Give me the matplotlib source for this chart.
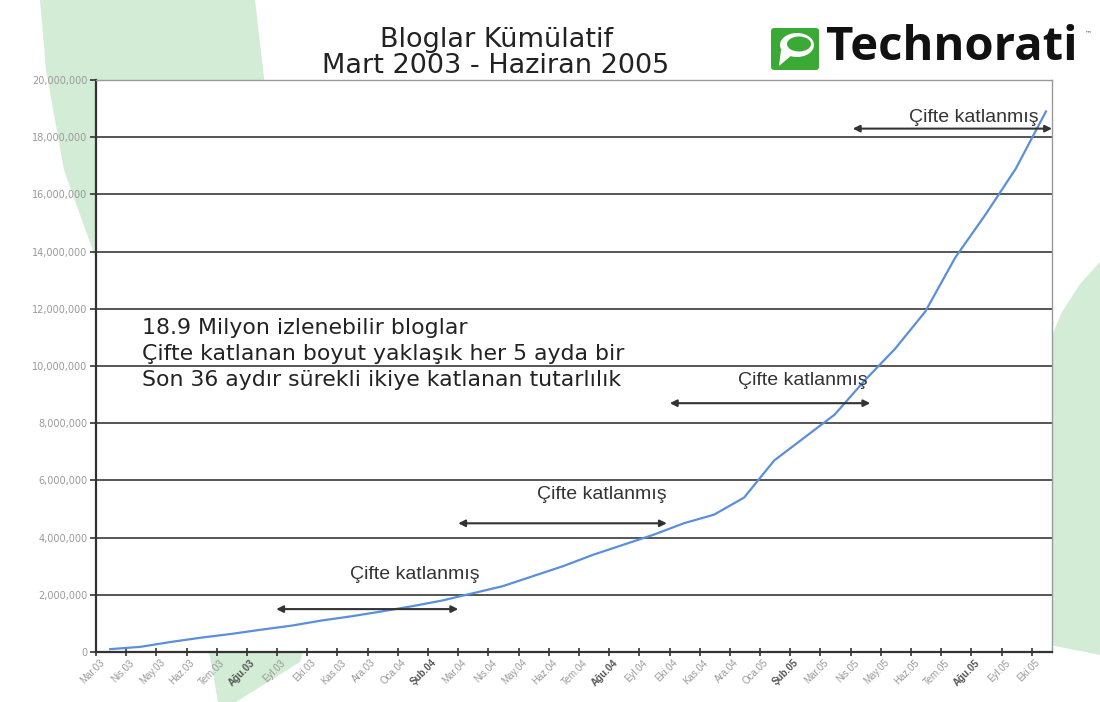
"""
Technorati: cumulative blog count, Mar 2003 - Jun 2005 (Turkish slide).
"""
import matplotlib
matplotlib.use("Agg")
import matplotlib.pyplot as plt
from matplotlib.patches import Polygon, FancyBboxPatch, Ellipse
from matplotlib.ticker import FuncFormatter
from matplotlib.transforms import ScaledTranslation

months = ["Mar.03", "Nis.03", "May.03", "Haz.03", "Tem.03", "Ağu.03", "Eyl.03", "Eki.03",
          "Kas.03", "Ara.03", "Oca.04", "Şub.04", "Mar.04", "Nis.04", "May.04", "Haz.04",
          "Tem.04", "Ağu.04", "Eyl.04", "Eki.04", "Kas.04", "Ara.04", "Oca.05", "Şub.05",
          "Mar.05", "Nis.05", "May.05", "Haz.05", "Tem.05", "Ağu.05", "Eyl.05", "Eki.05"]
bold_months = ["Ağu.03", "Şub.04", "Ağu.04", "Şub.05", "Ağu.05"]

blogs = [0.10, 0.18, 0.35, 0.50, 0.63, 0.78, 0.92, 1.10,
         1.25, 1.42, 1.60, 1.80, 2.05, 2.30, 2.65, 3.00,
         3.40, 3.75, 4.10, 4.50, 4.80, 5.40, 6.70, 7.50,
         8.30, 9.50, 10.6, 11.9, 13.8, 15.3, 16.9, 18.9]
blogs = [v * 1e6 for v in blogs]

# doubling periods: (start month idx, end month idx, arrow level, text x, text level)
doublings = [(5.5, 11.53, 1.5e6, 10.1, 2.7e6),
             (11.53, 18.44, 4.5e6, 16.3, 5.5e6),
             (18.54, 25.18, 8.7e6, 22.95, 9.5e6),
             (24.6, 31.2, 18.3e6, 28.6, 18.68e6)]
doubling_label = "Çifte katlanmış"

notes = ["18.9 Milyon izlenebilir bloglar",
         "Çifte katlanan boyut yaklaşık her 5 ayda bir",
         "Son 36 aydır sürekli ikiye katlanan tutarlılık"]

W, H = 1100, 702
fig = plt.figure(figsize=(W / 100, H / 100), dpi=100)

# background layer in pixel coordinates
bg = fig.add_axes([0, 0, 1, 1], zorder=0)
bg.set_xlim(0, W)
bg.set_ylim(H, 0)
bg.axis("off")
green_light = "#d3ecd6"
bg.add_patch(Polygon([(40, 0), (255, 0), (262, 60), (290, 300), (312, 620), (300, 662),
                      (236, 702), (218, 702), (200, 600), (97, 262), (64, 170), (46, 70)],
                     closed=True, color=green_light, lw=0))
bg.add_patch(Polygon([(1100, 262), (1080, 284), (1062, 312), (1050, 340), (1050, 645),
                      (1100, 655)], closed=True, color=green_light, lw=0))

bg.text(496, 40, "Bloglar Kümülatif", ha="center", va="center",
        fontsize=19.5, color="#222222", family="DejaVu Sans")
bg.text(496, 66, "Mart 2003 - Haziran 2005", ha="center", va="center",
        fontsize=19.5, color="#222222", family="DejaVu Sans")

# Technorati logo
logo_green = "#3aa935"
bg.add_patch(FancyBboxPatch((771, 28), 48, 42, boxstyle="round,pad=0,rounding_size=3",
                            color=logo_green, lw=0))
bg.add_patch(Ellipse((797, 45), 34, 24, color="white", lw=0))
bg.add_patch(Ellipse((799, 44), 24, 15, color=logo_green, lw=0))
bg.add_patch(Polygon([(781, 50), (779, 66), (792, 55)], closed=True, color="white", lw=0))
bg.text(826, 48, "Technorati", ha="left", va="center", fontsize=34,
        fontweight="bold", color="#111111", family="Open Sans")
bg.text(1085, 33, "™", ha="left", va="center", fontsize=5, color="#555555")

# main chart
ax = fig.add_axes([96 / W, 1 - 652 / H, (1052 - 96) / W, (652 - 80) / H], zorder=1)
ax.set_facecolor("white")
x = list(range(len(months)))
ax.plot(x, blogs, color="#5b8fdc", lw=1.6, zorder=3)

ax.set_xlim(-0.47, 31.2)
ax.set_ylim(0, 20e6)
ax.set_yticks([i * 2e6 for i in range(11)])
ax.yaxis.set_major_formatter(FuncFormatter(lambda v, p: f"{int(v):,}"))
ax.grid(axis="y", color="#555555", lw=1.4)
ax.set_axisbelow(True)
for side in ["left", "bottom"]:
    ax.spines[side].set_color("#333333")
    ax.spines[side].set_linewidth(1.6)
for side in ["top", "right"]:
    ax.spines[side].set_color("#999999")
    ax.spines[side].set_linewidth(1.0)
ax.tick_params(axis="y", direction="out", length=4, width=1.2, color="#333333",
               labelsize=7, labelcolor="#999999", pad=2)

ax.set_xticks([i - 0.47 for i in x], minor=True)
ax.set_xticks(x)
ax.set_xticklabels(months)
ax.tick_params(axis="x", which="major", length=0, pad=4)
ax.tick_params(axis="x", which="minor", direction="inout", length=6, width=1.2, color="#333333")
shift = ScaledTranslation(-11 / 100, 0, fig.dpi_scale_trans)
for lab in ax.get_xticklabels():
    lab.set_rotation(45)
    lab.set_ha("right")
    lab.set_va("top")
    lab.set_rotation_mode("anchor")
    lab.set_fontsize(7)
    lab.set_family("Liberation Sans")
    lab.set_transform(lab.get_transform() + shift)
    if lab.get_text() in bold_months:
        lab.set_fontweight("bold")
        lab.set_color("#555555")
    else:
        lab.set_color("#999999")

for x0, x1, ya, xt, yt in doublings:
    ax.annotate("", xy=(x1, ya), xytext=(x0, ya),
                arrowprops=dict(arrowstyle="<|-|>", color="#333333", lw=1.5,
                                mutation_scale=10, shrinkA=0, shrinkB=0), zorder=4)
    ax.text(xt, yt, doubling_label, ha="center", va="center", fontsize=14,
            color="#333333", family="Liberation Sans", zorder=4)

for i, line in enumerate(notes):
    ax.text(1.05, 11.33e6 - i * 0.91e6, line, ha="left", va="center",
            fontsize=15.8, color="#222222", family="DejaVu Sans", zorder=4)

fig.savefig("out.png", dpi=100)
